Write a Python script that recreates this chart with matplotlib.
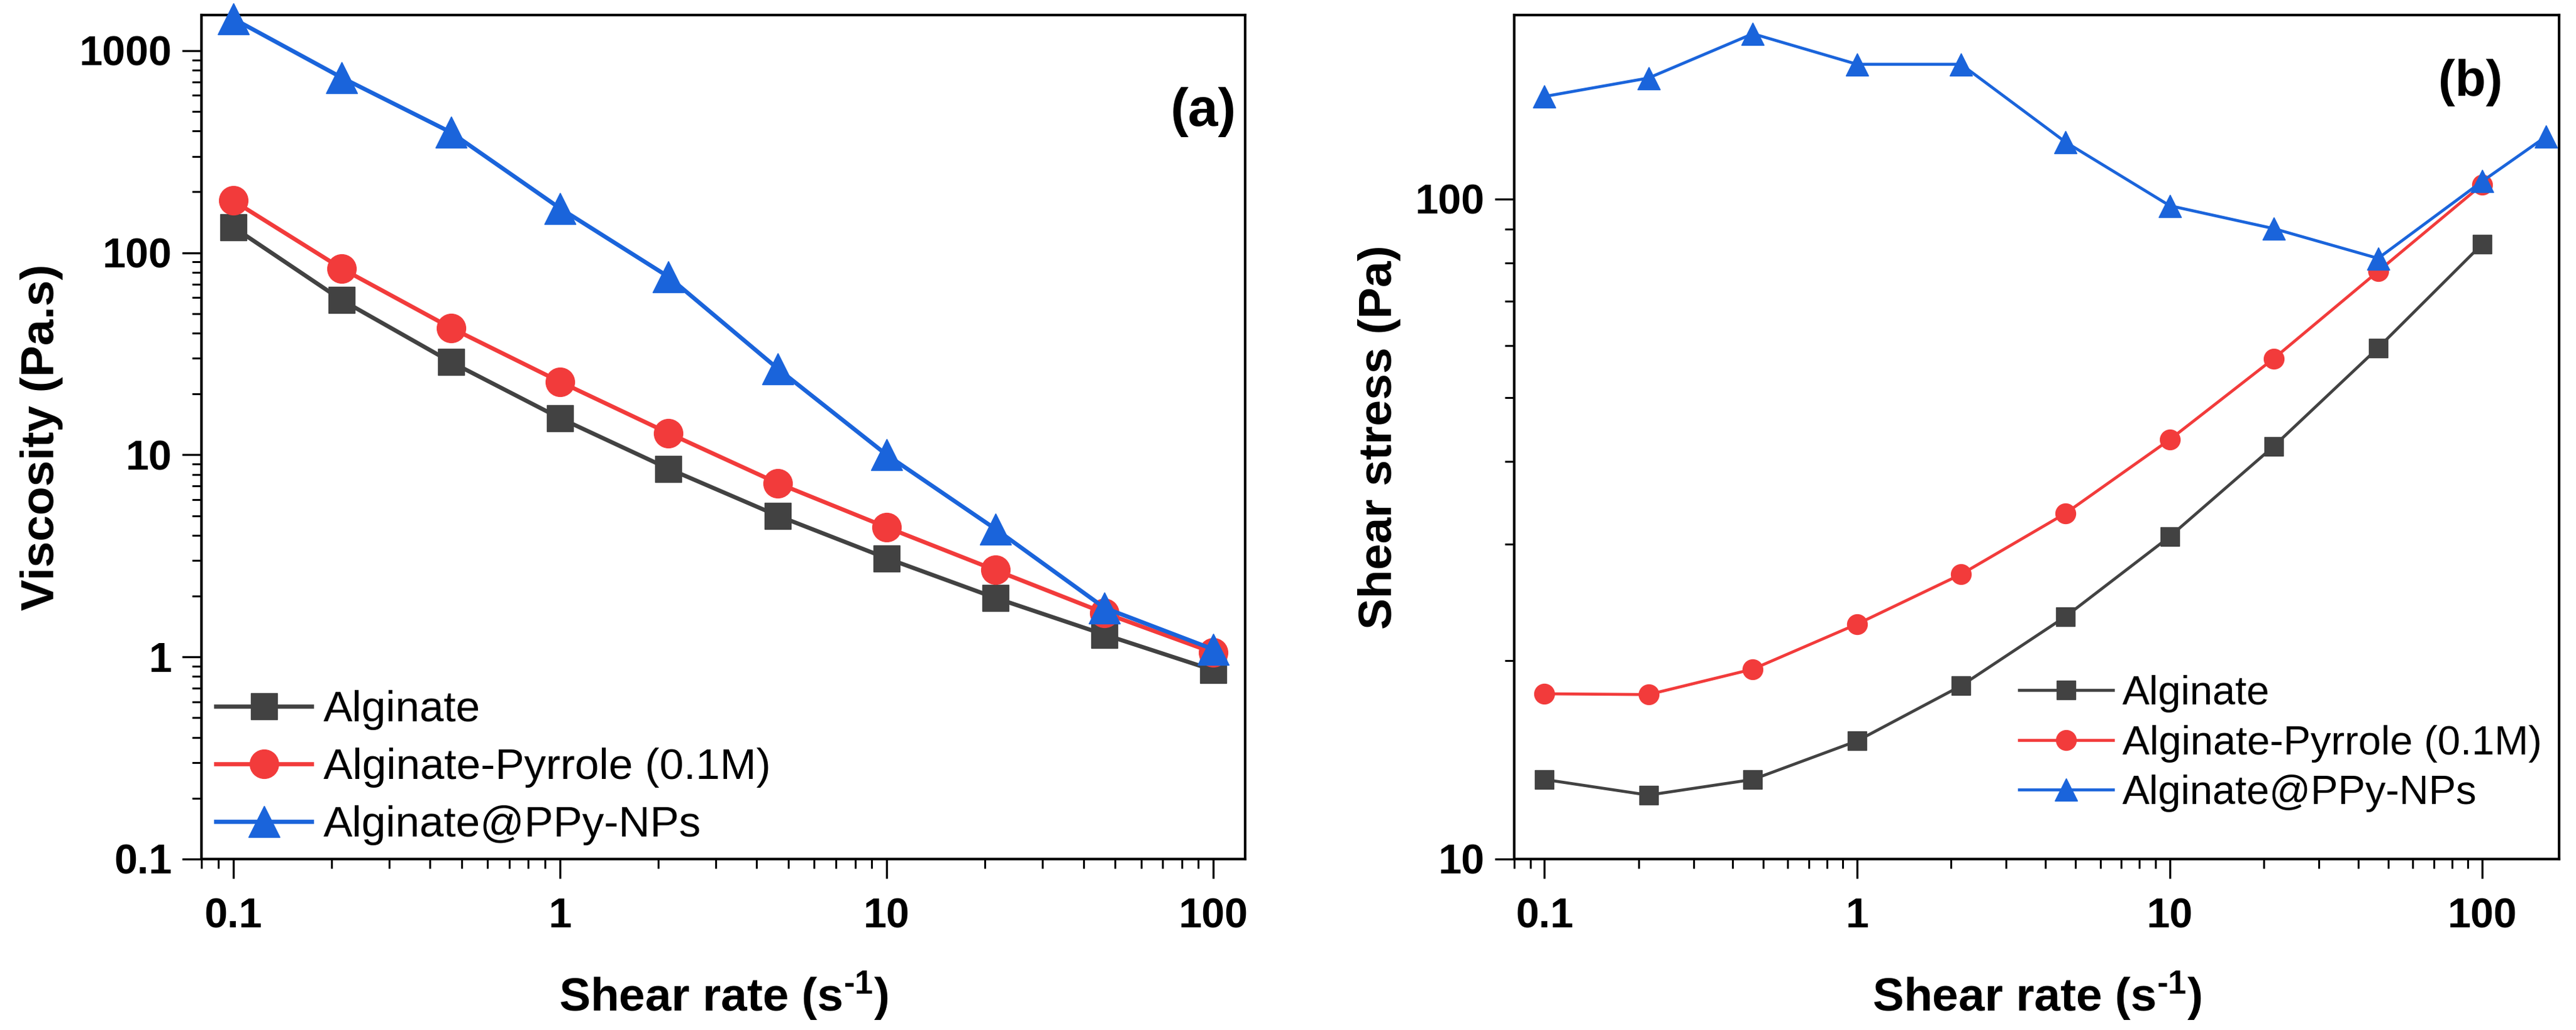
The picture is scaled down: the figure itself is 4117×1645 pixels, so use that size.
import matplotlib
matplotlib.use('Agg')
import matplotlib.pyplot as plt
import matplotlib.ticker as ticker

plt.rcParams['font.family'] = ['Liberation Sans', 'DejaVu Sans']
plt.rcParams['mathtext.fontset'] = 'custom'
plt.rcParams['mathtext.rm'] = 'Liberation Sans:bold'
plt.rcParams['mathtext.it'] = 'Liberation Sans:bold'
plt.rcParams['mathtext.bf'] = 'Liberation Sans:bold'

# shear rate (1/s)
shear_rate = [0.1, 0.215, 0.464, 1, 2.15, 4.64, 10, 21.5, 46.4, 100]
shear_rate_ppy = [0.1, 0.215, 0.464, 1, 2.15, 4.64, 10, 21.5, 46.4, 100, 160]

labels = ['Alginate', 'Alginate-Pyrrole (0.1M)', 'Alginate@PPy-NPs']

# (a) viscosity, Pa.s
visc_alg = [134, 58.3, 28.8, 15.2, 8.54, 5.0, 3.08, 1.96, 1.29, 0.86]
visc_pyr = [181, 83.5, 42.5, 23.0, 12.8, 7.24, 4.38, 2.69, 1.65, 1.05]
visc_ppy = [1440, 735, 394, 166, 76, 26.7, 10.0, 4.3, 1.75, 1.09]

# (b) shear stress, Pa
stress_alg = [13.2, 12.5, 13.2, 15.1, 18.3, 23.3, 30.8, 42.2, 59.5, 85.5]
stress_pyr = [17.8, 17.75, 19.4, 22.7, 27.0, 33.4, 43.2, 57.3, 77.7, 105.2]
stress_ppy = [143, 152.5, 178, 160, 160, 122, 97.7, 90.2, 81.3, 106.4, 124.4]

grey = '#424242'
red = '#f23b3b'
blue = '#1a64db'

W, H = 4117, 1645
fig = plt.figure(figsize=(W / 100, H / 100), dpi=100)
axa = fig.add_axes([322 / W, 1 - 1372 / H, (1990 - 322) / W, (1372 - 24) / H])
axb = fig.add_axes([2420 / W, 1 - 1372 / H, (4090 - 2420) / W, (1372 - 24) / H])


def style(ax):
    ax.set_xscale('log')
    ax.set_yscale('log')
    for s in ax.spines.values():
        s.set_linewidth(3)
    ax.tick_params(which='major', direction='out', length=22, width=2.4,
                   labelsize=48, pad=12)
    ax.tick_params(which='minor', direction='out', length=11, width=2.2)
    ax.tick_params(axis='x', which='major', pad=22)
    ax.xaxis.set_major_locator(ticker.FixedLocator([0.1, 1, 10, 100]))
    ax.xaxis.set_minor_locator(ticker.LogLocator(base=10, subs=range(2, 10), numticks=20))
    ax.xaxis.set_major_formatter(ticker.FuncFormatter(lambda v, p: '%g' % v))
    ax.xaxis.set_minor_formatter(ticker.NullFormatter())
    ax.yaxis.set_minor_locator(ticker.LogLocator(base=10, subs=range(2, 10), numticks=20))
    ax.yaxis.set_major_formatter(ticker.FuncFormatter(lambda v, p: '%g' % v))
    ax.yaxis.set_minor_formatter(ticker.NullFormatter())
    for lab in ax.get_xticklabels() + ax.get_yticklabels():
        lab.set_fontweight('bold')
    ax.set_xlabel(r'Shear rate (s$^{\text{-1}}$)', fontsize=54, fontweight='bold', va='center')
    ax.xaxis.set_label_coords(0.5, -0.162)


# panel (a)
axa.plot(shear_rate, visc_alg, '-s', color=grey, lw=4.8, ms=30, label=labels[0], clip_on=False, zorder=3)
axa.plot(shear_rate, visc_pyr, '-o', color=red, lw=4.8, ms=33, label=labels[1], clip_on=False, zorder=4)
axa.plot(shear_rate, visc_ppy, '-^', color=blue, lw=4.8, ms=36, label=labels[2], clip_on=False, zorder=5)
axa.set_xlim(0.08, 125)
axa.set_ylim(0.1, 1500)
style(axa)
axa.yaxis.set_major_locator(ticker.FixedLocator([0.1, 1, 10, 100, 1000]))
axa.set_ylabel('Viscosity (Pa.s)', fontsize=54, fontweight='bold', va='center')
axa.yaxis.set_label_coords(-0.153, 0.5)
axa.legend(loc='upper left', bbox_to_anchor=(0.014, 0.2), frameon=False, fontsize=50,
           handlelength=2.2, handletextpad=0.27, labelspacing=0.4, borderpad=0, borderaxespad=0)
axa.text(0.96, 0.885, '(a)', transform=axa.transAxes, fontsize=62, fontweight='bold',
         ha='center', va='center')

# panel (b)
axb.plot(shear_rate, stress_alg, '-s', color=grey, lw=3.4, ms=21, label=labels[0], clip_on=False, zorder=3)
axb.plot(shear_rate, stress_pyr, '-o', color=red, lw=3.4, ms=23, label=labels[1], clip_on=False, zorder=4)
axb.plot(shear_rate_ppy, stress_ppy, '-^', color=blue, lw=3.4, ms=26, label=labels[2], clip_on=False, zorder=5)
axb.set_xlim(0.08, 176)
axb.set_ylim(10, 190)
style(axb)
axb.yaxis.set_major_locator(ticker.FixedLocator([10, 100]))
axb.set_ylabel('Shear stress (Pa)', fontsize=54, fontweight='bold', va='center')
axb.yaxis.set_label_coords(-0.129, 0.5)
axb.legend(loc='upper left', bbox_to_anchor=(0.483, 0.218), frameon=False, fontsize=47,
           handlelength=2.3, handletextpad=0.23, labelspacing=0.3, borderpad=0, borderaxespad=0)
axb.text(0.915, 0.92, '(b)', transform=axb.transAxes, fontsize=58, fontweight='bold',
         ha='center', va='center')

fig.savefig('out.png', dpi=100)
